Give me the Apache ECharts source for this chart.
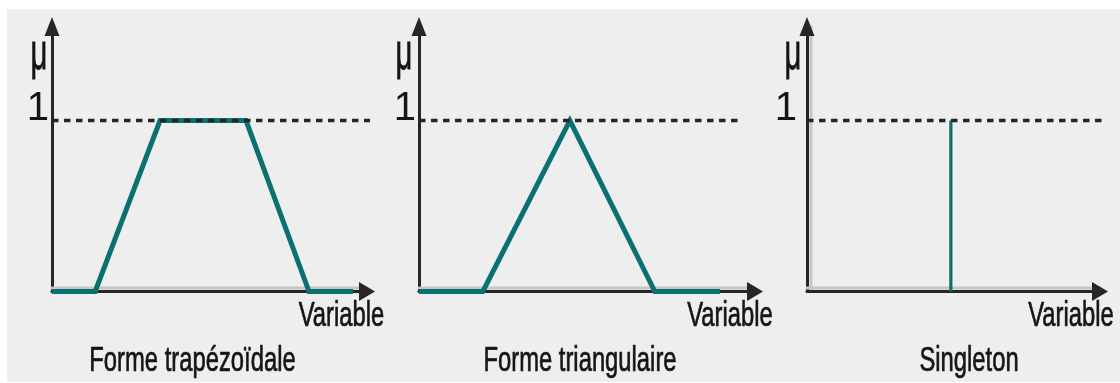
<!DOCTYPE html>
<html>
<head>
<meta charset="utf-8">
<script src="https://cdn.jsdelivr.net/npm/echarts@6/dist/echarts.min.js"></script>
<style>
  html, body { margin: 0; padding: 0; background: #ffffff; }
  #bg { position: absolute; left: 7px; top: 9px; width: 1113px; height: 373px; background: #eeeeee; }
  #chart { position: absolute; left: 0; top: 0; width: 1120px; height: 383px; }
</style>
</head>
<body>
<div id="bg"></div>
<div id="chart"></div>
<script>
// ---- data ----
const trapX  = [0, 1.37, 3.43, 6.16, 8.16, 9.56];
const trapMu = [0, 0, 1, 1, 0, 0];
const triX   = [0, 1.90, 4.49, 7.02, 8.96];
const triMu  = [0, 0, 1, 0, 0];
const singleX  = [4.91, 4.91];
const singleMu = [0, 1];
const refLevel = 1;
const dashEnds = [10.19, 9.55, 10.17];
const yTickLabels = [1];
const titles = ['Forme trapézoïdale', 'Forme triangulaire', 'Singleton'];
const xAxisName = 'Variable';
const yAxisName = 'μ';

// ---- layout ----
const gridLefts  = [52, 419, 807];
const gridWidths = [315, 336, 293];
const gridTop = 26.5, gridHeight = 265;
const labelMargins = [3, 3, 10];
const muPos = [39, 404, 793];
const varPos = [341.5, 730, 1071];
const titlePos = [192.5, 580, 969];

const TEAL = '#0b7070';
const AXIS = '#262626';
const TEXT = '#151515';
const FONT = '"Liberation Sans", Arial, sans-serif';

const zip = (xs, ys) => xs.map((x, i) => [x, ys[i]]);
const curves = [zip(trapX, trapMu), zip(triX, triMu), zip(singleX, singleMu)];
const curveWidths = [5, 5, 3.2];

const grids = [], xAxes = [], yAxes = [], series = [], graphics = [];
for (let i = 0; i < 3; i++) {
  grids.push({ left: gridLefts[i], top: gridTop, width: gridWidths[i], height: gridHeight });
  xAxes.push({
    gridIndex: i, type: 'value', min: 0, max: 10,
    axisLine: { show: true, onZero: false, symbol: ['none', 'triangle'], symbolSize: [19, 16],
      lineStyle: { color: AXIS, width: 3, shadowColor: '#c6c6c6', shadowOffsetY: -3.5, shadowBlur: 0 } },
    axisTick: { show: false }, axisLabel: { show: false }, splitLine: { show: false }
  });
  const yLine = { color: AXIS, width: 3 };
  if (i === 2) { yLine.shadowColor = '#c6c6c6'; yLine.shadowOffsetX = 3.5; yLine.shadowBlur = 0; }
  yAxes.push({
    gridIndex: i, type: 'value', min: 0, max: 1.55, interval: 1,
    axisLine: { show: true, onZero: false, symbol: ['none', 'triangle'], symbolSize: [15, 19], lineStyle: yLine },
    axisTick: { show: false }, splitLine: { show: false },
    axisLabel: {
      show: true, margin: labelMargins[i], color: TEXT, fontSize: 40, fontFamily: FONT,
      verticalAlign: 'bottom', lineHeight: 23.4,
      formatter: v => (yTickLabels.indexOf(v) >= 0 ? String(v) : '')
    }
  });
  series.push({
    type: 'line', xAxisIndex: i, yAxisIndex: i, data: curves[i],
    symbol: 'none', z: 3, lineStyle: { color: TEAL, width: curveWidths[i], cap: 'butt', join: 'miter' }
  });
  series.push({
    type: 'line', xAxisIndex: i, yAxisIndex: i, clip: false,
    data: [[0, refLevel], [dashEnds[i], refLevel]],
    symbol: 'none', z: 4, silent: true,
    lineStyle: { color: AXIS, width: 3.5, type: [6.5, 5.5] }
  });
  const txt = (x, y, text, size, sy) => ({ type: 'text', x: x, y: y, scaleX: 0.68, scaleY: sy,
    style: { text: text, fontSize: size, fontFamily: FONT, fill: TEXT, stroke: TEXT, lineWidth: 0.7,
      align: 'center', verticalAlign: 'middle' } });
  graphics.push(txt(muPos[i], 55, yAxisName, 43, 1.2));
  graphics.push(txt(varPos[i], 316.5, xAxisName, 35, 1));
  graphics.push(txt(titlePos[i], 361.2, titles[i], 35, 1));
}

const chart = echarts.init(document.getElementById('chart'), null, { renderer: 'canvas' });
chart.setOption({
  backgroundColor: 'transparent',
  animation: false,
  grid: grids,
  xAxis: xAxes,
  yAxis: yAxes,
  series: series,
  graphic: graphics
});
</script>
</body>
</html>
